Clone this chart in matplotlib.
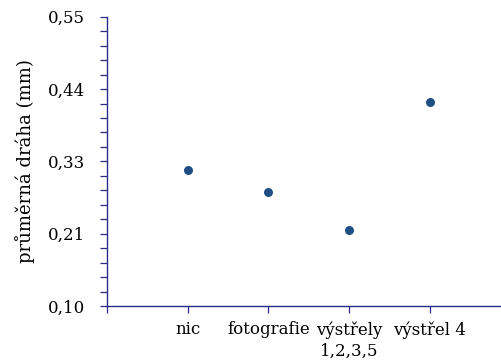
import matplotlib
matplotlib.use('Agg')
import matplotlib.pyplot as plt
import numpy as np
from matplotlib.ticker import FixedLocator, FuncFormatter

# mean path per condition
categories = ['nic', 'fotografie', 'výstřely\n1,2,3,5', 'výstřel 4']
values = [0.312, 0.278, 0.219, 0.418]

ymin, ymax = 0.10, 0.55
axis_col = '#2B2B8C'
dot_col = '#1F4E85'

plt.rcParams['font.family'] = ['DejaVu Serif']

fig = plt.figure(figsize=(5.01, 3.64), dpi=100)
ax = fig.add_axes([0.2136, 0.159, 0.7864, 0.795])

x = np.arange(1, len(categories) + 1)
ax.scatter(x, values, s=42, color=dot_col, zorder=3, linewidths=0)

ax.set_xlim(0, 4.88)
ax.set_ylim(ymin, ymax)

major = np.linspace(ymin, ymax, 5)
minor = np.linspace(ymin, ymax, 21)
ax.yaxis.set_major_locator(FixedLocator(major))
ax.yaxis.set_minor_locator(FixedLocator(minor))
ax.yaxis.set_major_formatter(FuncFormatter(lambda v, p: ('%.2f' % (v + 1e-9)).replace('.', ',')))

ax.set_xticks(np.arange(0, 5))
ax.set_xticklabels([''] + categories, linespacing=1.3)

for s in ['top', 'right']:
    ax.spines[s].set_visible(False)
for s in ['left', 'bottom']:
    ax.spines[s].set_color(axis_col)
    ax.spines[s].set_linewidth(1.0)

ax.tick_params(axis='y', which='both', direction='out', length=5, width=0.9,
               color=axis_col, labelsize=12, pad=11)
ax.tick_params(axis='x', which='major', direction='out', length=5, width=0.9,
               color=axis_col, labelsize=12, pad=6)

ax.set_ylabel('průměrná dráha (mm)', fontsize=13, labelpad=9)

plt.savefig('out.png', dpi=100)
